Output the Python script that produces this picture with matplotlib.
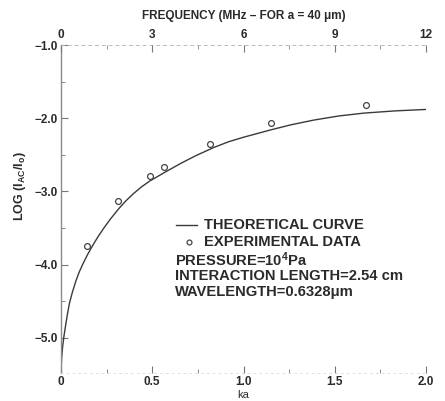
import matplotlib
matplotlib.use("Agg")
import matplotlib.pyplot as plt
from matplotlib.ticker import MultipleLocator

# ---- data ----
curve_ka = [0.0, 0.004, 0.009, 0.016, 0.024, 0.035, 0.046, 0.062, 0.082, 0.10, 0.12,
            0.146, 0.178, 0.205, 0.232, 0.27, 0.315, 0.355, 0.397, 0.44, 0.485,
            0.568, 0.654, 0.74, 0.837, 0.92, 1.0, 1.148, 1.26, 1.386, 1.52, 1.661,
            1.83, 2.0]
curve_log = [-5.45, -5.26, -5.12, -4.98, -4.85, -4.68, -4.53, -4.38, -4.22, -4.10, -3.99,
             -3.86, -3.72, -3.61, -3.51, -3.38, -3.24, -3.13, -3.03, -2.94, -2.86,
             -2.74, -2.62, -2.51, -2.40, -2.32, -2.26, -2.16, -2.09, -2.025, -1.97, -1.93,
             -1.90, -1.88]
exp_ka = [0.141, 0.313, 0.485, 0.566, 0.819, 1.152, 1.669]
exp_log = [-3.75, -3.13, -2.79, -2.66, -2.35, -2.07, -1.82]

x_ticks = [0, 0.5, 1.0, 1.5, 2.0]
x_ticklabels = ["0", "0.5", "1.0", "1.5", "2.0"]
y_ticks = [-1.0, -2.0, -3.0, -4.0, -5.0]
y_ticklabels = ["\u22121.0", "\u22122.0", "\u22123.0", "\u22124.0", "\u22125.0"]
freq_ticks = [0, 3, 6, 9, 12]

plt.rcParams['font.family'] = ['Liberation Sans', 'DejaVu Sans']
plt.rcParams['mathtext.fontset'] = 'custom'
plt.rcParams['mathtext.rm'] = 'Liberation Sans'
plt.rcParams['mathtext.it'] = 'Liberation Sans'
plt.rcParams['mathtext.bf'] = 'Liberation Sans:bold'

W, H = 445, 401
fig = plt.figure(figsize=(W / 100, H / 100), dpi=100)
ax = fig.add_axes([61 / W, 1 - 373 / H, (426 - 61) / W, (373 - 45) / H])
ink = '#2a2a2a'

ax.plot(curve_ka, curve_log, color='#3a3a3a', lw=1.0)
ax.plot(exp_ka, exp_log, linestyle='none', marker='o', ms=4.2, mfc='white',
        mec='#444444', mew=0.9)

ax.set_xlim(0, 2.0)
ax.set_ylim(-5.48, -1.0)

ax.set_xticks(x_ticks)
ax.set_xticklabels(x_ticklabels)
ax.xaxis.set_minor_locator(MultipleLocator(0.25))
ax.set_yticks(y_ticks)
ax.set_yticklabels(y_ticklabels)
ax.yaxis.set_minor_locator(MultipleLocator(0.5))
ax.tick_params(axis='both', which='major', direction='in', length=5, width=0.8,
               colors='#777777', labelcolor=ink, labelsize=8.5)
ax.tick_params(axis='both', which='minor', direction='in', length=3, width=0.7,
               colors='#888888')
ax.tick_params(axis='x', pad=2)
ax.tick_params(axis='y', pad=2)
for lab in ax.get_xticklabels() + ax.get_yticklabels():
    lab.set_fontweight('bold')

ax.set_ylabel('LOG (I$_{\\mathbf{AC}}$/I$_{\\mathbf{o}}$)', fontsize=9, color=ink,
              fontweight='bold')
ax.yaxis.set_label_coords(-0.09, 0.57)

ax.spines['right'].set_visible(False)
ax.spines['left'].set_color('#8a8a8a')
ax.spines['left'].set_linewidth(1.0)
ax.spines['top'].set_color('#bbbbbb')
ax.spines['top'].set_linewidth(0.7)
ax.spines['top'].set_linestyle((0, (3, 4)))
ax.spines['bottom'].set_color('#d8d8d8')
ax.spines['bottom'].set_linewidth(0.6)
ax.spines['bottom'].set_linestyle((0, (2, 5)))

# top frequency axis
top = ax.twiny()
top.set_xlim(0, 12)
top.set_xticks(freq_ticks)
top.set_xticklabels([str(v) for v in freq_ticks])
top.xaxis.set_minor_locator(MultipleLocator(1.5))
top.tick_params(axis='x', which='major', direction='in', length=5, width=0.8,
                colors='#777777', labelcolor=ink, labelsize=8.5, pad=3)
top.tick_params(axis='x', which='minor', direction='in', length=3, width=0.7,
                colors='#999999')
for lab in top.get_xticklabels():
    lab.set_fontweight('bold')
for s in ['right', 'left', 'bottom', 'top']:
    top.spines[s].set_visible(False)
top.set_xlabel('FREQUENCY (MHz \u2013 FOR a = 40 \u03bcm)', fontsize=8.5,
               color=ink, fontweight='bold', labelpad=7)

# legend / annotation block
def fx(px):
    return px / W

def fy(py):
    return 1 - py / H

fig.text(fx(243), fy(394.5), 'ka', fontsize=8, color=ink, ha='center', va='center')

fs = 10.6
fig.add_artist(plt.Line2D([fx(176), fx(197)], [fy(225), fy(225)], color='#3a3a3a', lw=1.0))
fig.add_artist(plt.Line2D([fx(189)], [fy(242)], marker='o', ms=3.5, mfc='white',
                          mec='#444444', mew=0.9, linestyle='none'))
kw = dict(fontsize=fs, color=ink, va='center', fontweight='bold')
fig.text(fx(204), fy(225), 'THEORETICAL CURVE', **kw)
fig.text(fx(204), fy(242), 'EXPERIMENTAL DATA', **kw)
fig.text(fx(175), fy(260), 'PRESSURE=10$^{\\mathbf{4}}$Pa', **kw)
fig.text(fx(175), fy(276), 'INTERACTION LENGTH=2.54 cm', **kw)
fig.text(fx(175), fy(292), 'WAVELENGTH=0.6328\u03bcm', **kw)

fig.savefig('out.png', dpi=100)
